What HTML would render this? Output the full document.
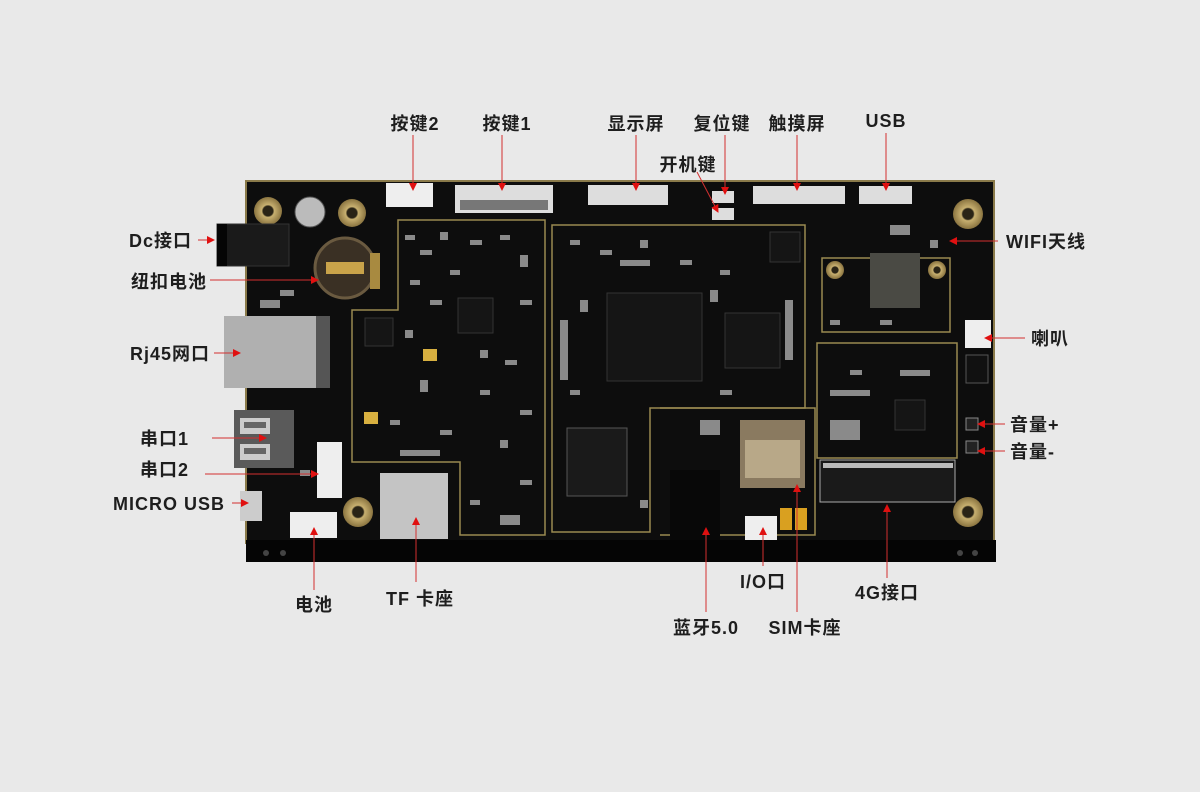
<!DOCTYPE html>
<html><head><meta charset="utf-8"><style>
html,body{margin:0;padding:0;background:#e9e9e9;}
svg{display:block}
text{font-family:"Liberation Sans","Noto Sans CJK SC",sans-serif;font-weight:bold;font-size:18px;letter-spacing:1px;fill:#1e1e1e}
</style></head><body>
<svg width="1200" height="792" viewBox="0 0 1200 792" xmlns="http://www.w3.org/2000/svg">
<defs>
<marker id="a" markerWidth="8" markerHeight="8" refX="7" refY="4" orient="auto" markerUnits="userSpaceOnUse"><path d="M0,0 L8,4 L0,8 z" fill="#e01010"/></marker>
<radialGradient id="hole"><stop offset="0.35" stop-color="#2a2416"/><stop offset="0.45" stop-color="#c8b070"/><stop offset="1" stop-color="#8a7440"/></radialGradient>
</defs>
<rect width="1200" height="792" fill="#e9e9e9"/>
<rect x="246" y="181" width="748" height="362" fill="#0d0d0d" stroke="#8a7a4a" stroke-width="2"/>
<rect x="246" y="540" width="750" height="22" fill="#050505"/>
<circle cx="266" cy="553" r="3" fill="#444"/><circle cx="283" cy="553" r="3" fill="#444"/>
<circle cx="960" cy="553" r="3" fill="#444"/><circle cx="975" cy="553" r="3" fill="#444"/>
<g fill="none" stroke="#9a8a50" stroke-width="1.5">
<path d="M398 220 H545 V535 H460 V462 H352 V310 H398 Z"/>
<path d="M552 225 H805 V408 H650 V532 H552 Z"/>
<path d="M660 408 H815 V535 H660"/>
<rect x="817" y="343" width="140" height="115"/>
<path d="M822 258 H950 V332 H822 Z"/>
</g>
<circle cx="268" cy="211" r="14" fill="url(#hole)"/>
<circle cx="352" cy="213" r="14" fill="url(#hole)"/>
<circle cx="968" cy="214" r="15" fill="url(#hole)"/>
<circle cx="358" cy="512" r="15" fill="url(#hole)"/>
<circle cx="968" cy="512" r="15" fill="url(#hole)"/>
<circle cx="835" cy="270" r="9" fill="url(#hole)"/>
<circle cx="937" cy="270" r="9" fill="url(#hole)"/>
<circle cx="310" cy="212" r="15" fill="#bbb" stroke="#555"/>
<rect x="217" y="224" width="72" height="42" fill="#1a1a1a" stroke="#333"/>
<rect x="217" y="224" width="10" height="42" fill="#050505"/>
<circle cx="345" cy="268" r="30" fill="#3a3024" stroke="#6a5a40" stroke-width="3"/>
<rect x="326" y="262" width="38" height="12" fill="#c9a34a"/>
<rect x="370" y="253" width="10" height="36" fill="#a88a40"/>
<rect x="224" y="316" width="92" height="72" fill="#b0b0b0"/>
<rect x="316" y="316" width="14" height="72" fill="#555"/>
<rect x="234" y="410" width="60" height="58" fill="#5a5a5a"/>
<rect x="240" y="418" width="30" height="16" fill="#ccc"/><rect x="240" y="444" width="30" height="16" fill="#ccc"/>
<rect x="244" y="422" width="22" height="6" fill="#666"/><rect x="244" y="448" width="22" height="6" fill="#666"/>
<rect x="317" y="442" width="25" height="56" fill="#eee"/>
<rect x="290" y="512" width="47" height="26" fill="#eee"/>
<rect x="386" y="183" width="47" height="24" fill="#eee"/>
<rect x="965" y="320" width="26" height="28" fill="#eee"/>
<rect x="859" y="186" width="53" height="18" fill="#ddd"/>
<rect x="745" y="516" width="32" height="24" fill="#eee"/>
<rect x="240" y="491" width="22" height="30" fill="#ccc"/>
<rect x="380" y="473" width="68" height="66" fill="#c4c4c4"/>
<rect x="455" y="185" width="98" height="28" fill="#ddd"/><rect x="460" y="200" width="88" height="10" fill="#777"/>
<rect x="588" y="185" width="80" height="20" fill="#ddd"/>
<rect x="753" y="186" width="92" height="18" fill="#ddd"/>
<rect x="712" y="191" width="22" height="12" fill="#ddd"/><rect x="712" y="208" width="22" height="12" fill="#ddd"/>
<rect x="607" y="293" width="95" height="88" fill="#151515" stroke="#333"/>
<rect x="725" y="313" width="55" height="55" fill="#151515" stroke="#333"/>
<rect x="567" y="428" width="60" height="68" fill="#1a1a1a" stroke="#555"/>
<rect x="870" y="253" width="50" height="55" fill="#4a4a44"/>
<rect x="458" y="298" width="35" height="35" fill="#151515" stroke="#333"/>
<rect x="365" y="318" width="28" height="28" fill="#151515" stroke="#333"/>
<rect x="770" y="232" width="30" height="30" fill="#151515" stroke="#333"/>
<rect x="895" y="400" width="30" height="30" fill="#151515" stroke="#333"/>
<rect x="740" y="420" width="65" height="68" fill="#8a7a60"/>
<rect x="745" y="440" width="55" height="38" fill="#b8a888"/>
<rect x="820" y="460" width="135" height="42" fill="#1a1a1a" stroke="#aaa"/>
<rect x="823" y="463" width="130" height="5" fill="#bbb"/>
<rect x="780" y="508" width="12" height="22" fill="#d9a020"/><rect x="795" y="508" width="12" height="22" fill="#d9a020"/>
<rect x="423" y="349" width="14" height="12" fill="#d8b040"/>
<rect x="364" y="412" width="14" height="12" fill="#d8b040"/>
<rect x="670" y="470" width="50" height="70" fill="#080808"/>
<rect x="966" y="355" width="22" height="28" fill="#111" stroke="#555"/>
<rect x="966" y="418" width="12" height="12" fill="#222" stroke="#888"/>
<rect x="966" y="441" width="12" height="12" fill="#222" stroke="#888"/>
<g fill="#8a8a8a">
<rect x="405" y="235" width="10" height="5"/><rect x="420" y="250" width="12" height="5"/><rect x="440" y="232" width="8" height="8"/><rect x="470" y="240" width="12" height="5"/><rect x="500" y="235" width="10" height="5"/><rect x="520" y="255" width="8" height="12"/>
<rect x="410" y="280" width="10" height="5"/><rect x="430" y="300" width="12" height="5"/><rect x="405" y="330" width="8" height="8"/><rect x="505" y="360" width="12" height="5"/><rect x="480" y="390" width="10" height="5"/><rect x="420" y="380" width="8" height="12"/>
<rect x="390" y="420" width="10" height="5"/><rect x="440" y="430" width="12" height="5"/><rect x="500" y="440" width="8" height="8"/><rect x="520" y="480" width="12" height="5"/><rect x="470" y="500" width="10" height="5"/><rect x="500" y="515" width="20" height="10"/>
<rect x="570" y="240" width="10" height="5"/><rect x="600" y="250" width="12" height="5"/><rect x="640" y="240" width="8" height="8"/><rect x="680" y="260" width="12" height="5"/><rect x="720" y="270" width="10" height="5"/><rect x="580" y="300" width="8" height="12"/>
<rect x="570" y="390" width="10" height="5"/><rect x="720" y="390" width="12" height="5"/><rect x="640" y="500" width="8" height="8"/><rect x="700" y="420" width="20" height="15"/><rect x="850" y="370" width="12" height="5"/><rect x="830" y="420" width="30" height="20"/>
<rect x="830" y="320" width="10" height="5"/><rect x="880" y="320" width="12" height="5"/><rect x="930" y="240" width="8" height="8"/><rect x="890" y="225" width="20" height="10"/><rect x="280" y="290" width="14" height="6"/><rect x="260" y="300" width="20" height="8"/>
<rect x="450" y="270" width="10" height="5"/><rect x="480" y="350" width="8" height="8"/><rect x="520" y="300" width="12" height="5"/><rect x="400" y="450" width="40" height="6"/><rect x="620" y="260" width="30" height="6"/><rect x="710" y="290" width="8" height="12"/>
<rect x="785" y="300" width="8" height="60"/><rect x="560" y="320" width="8" height="60"/><rect x="830" y="390" width="40" height="6"/><rect x="900" y="370" width="30" height="6"/><rect x="520" y="410" width="12" height="5"/><rect x="300" y="470" width="10" height="6"/>
</g>
<g stroke="#d23030" stroke-width="1" fill="none" marker-end="url(#a)">
<line x1="413" y1="135" x2="413" y2="190"/>
<line x1="502" y1="135" x2="502" y2="190"/>
<line x1="636" y1="135" x2="636" y2="190"/>
<line x1="725" y1="135" x2="725" y2="194"/>
<line x1="797" y1="135" x2="797" y2="190"/>
<line x1="886" y1="133" x2="886" y2="190"/>
<line x1="697" y1="172" x2="718" y2="212"/>
<line x1="998" y1="241" x2="950" y2="241"/>
<line x1="1025" y1="338" x2="985" y2="338"/>
<line x1="1005" y1="424" x2="978" y2="424"/>
<line x1="1005" y1="451" x2="978" y2="451"/>
<line x1="198" y1="240" x2="214" y2="240"/>
<line x1="210" y1="280" x2="318" y2="280"/>
<line x1="214" y1="353" x2="240" y2="353"/>
<line x1="212" y1="438" x2="266" y2="438"/>
<line x1="205" y1="474" x2="318" y2="474"/>
<line x1="232" y1="503" x2="248" y2="503"/>
<line x1="314" y1="590" x2="314" y2="528"/>
<line x1="416" y1="582" x2="416" y2="518"/>
<line x1="763" y1="566" x2="763" y2="528"/>
<line x1="706" y1="612" x2="706" y2="528"/>
<line x1="797" y1="612" x2="797" y2="485"/>
<line x1="887" y1="578" x2="887" y2="505"/>
</g>
<text x="415" y="130" text-anchor="middle">按键2</text>
<text x="507" y="130" text-anchor="middle">按键1</text>
<text x="636" y="130" text-anchor="middle">显示屏</text>
<text x="722" y="130" text-anchor="middle">复位键</text>
<text x="797" y="130" text-anchor="middle">触摸屏</text>
<text x="886" y="127" text-anchor="middle">USB</text>
<text x="688" y="171" text-anchor="middle">开机键</text>
<text x="1006" y="248">WIFI天线</text>
<text x="1031" y="345">喇叭</text>
<text x="1010" y="431">音量+</text>
<text x="1010" y="458">音量-</text>
<text x="192" y="247" text-anchor="end">Dc接口</text>
<text x="207" y="288" text-anchor="end">纽扣电池</text>
<text x="210" y="360" text-anchor="end">Rj45网口</text>
<text x="189" y="445" text-anchor="end">串口1</text>
<text x="189" y="476" text-anchor="end">串口2</text>
<text x="225" y="510" text-anchor="end">MICRO USB</text>
<text x="314" y="611" text-anchor="middle">电池</text>
<text x="420" y="605" text-anchor="middle">TF 卡座</text>
<text x="763" y="588" text-anchor="middle">I/O口</text>
<text x="706" y="634" text-anchor="middle">蓝牙5.0</text>
<text x="805" y="634" text-anchor="middle">SIM卡座</text>
<text x="887" y="599" text-anchor="middle">4G接口</text>
</svg>
</body></html>
